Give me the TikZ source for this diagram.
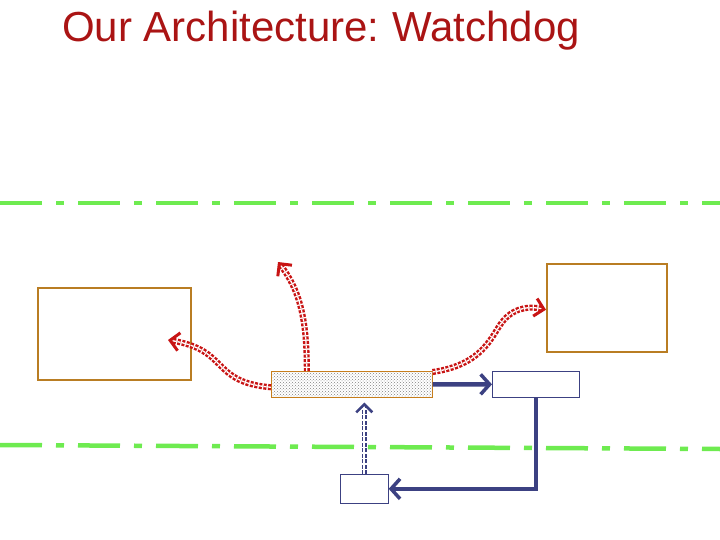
\documentclass[tikz,border=0pt]{standalone}
\usepackage{fontspec}
\setmainfont{Liberation Sans}
\usetikzlibrary{arrows.meta,patterns}
\definecolor{ttl}{RGB}{170,20,20}
\definecolor{brn}{RGB}{185,125,35}
\definecolor{navy}{RGB}{60,65,130}
\definecolor{grn}{RGB}{110,235,80}
\definecolor{rd}{RGB}{200,20,20}
\tikzset{
 box/.style={draw=brn,line width=1.5pt},
 nbox/.style={draw=navy,line width=0.7pt,fill=white},
 gline/.style={draw=grn,line width=4.5pt,dash pattern=on 42pt off 14pt on 8pt off 14pt},
 redarr/.style={draw=rd,line width=2.4pt,dash pattern=on 3pt off 1.5pt,double=white,double distance=1.3pt,-{Straight Barb[length=9pt,width=18pt,line width=3pt]}},
 navarr/.style={draw=navy,line width=4.5pt,-{Straight Barb[length=9pt,width=20pt,line width=3.5pt]}},
 dnav/.style={draw=navy,line width=1.6pt,dash pattern=on 4pt off 1.5pt,double=white,double distance=1.8pt,-{Straight Barb[length=8pt,width=16pt,line width=2.5pt]}}
}
\begin{document}
\begin{tikzpicture}[x=1pt,y=-1pt]
\useasboundingbox (0,0) rectangle (720,540);
\node[anchor=base west,text=ttl,font=\fontsize{42}{46}\selectfont,inner sep=0] (title) at (62,42) {Our Architecture:\hspace{0.3em}Watchdog};
\coordinate (g1a) at (0,203); \coordinate (g1b) at (720,203);
\coordinate (g2a) at (0,445); \coordinate (g2b) at (720,449);
\draw[gline] (g1a) -- (g1b);
\draw[gline] (g2a) -- (g2b);
\node[box,minimum width=153pt,minimum height=92pt,inner sep=0,anchor=north west] (L) at (37,287) {};
\node[box,minimum width=120pt,minimum height=88pt,inner sep=0,anchor=north west] (R) at (546,263) {};
\node[draw=brn!80!orange,line width=0.6pt,pattern=crosshatch dots,pattern color=gray,minimum width=161pt,minimum height=26pt,inner sep=0,anchor=north west] (W) at (271,371) {};
\node[nbox,minimum width=87pt,minimum height=26pt,inner sep=0,anchor=north west] (S) at (492,371) {};
\node[nbox,minimum width=48pt,minimum height=29pt,inner sep=0,anchor=north west] (B) at (340,474) {};
\coordinate (t1) at (168,340);
\coordinate (t2) at (278,262);
\draw[redarr] ([yshift=-3pt]W.west) .. controls (210,382) and (230,350) .. (t1);
\draw[redarr] ([xshift=-45pt]W.north) .. controls (307,320) and (300,290) .. (t2);
\draw[redarr] ([yshift=-1pt]W.north east) .. controls (480,365) and (490,340) .. (500,325) .. controls (510,310) and (525,305) .. ([yshift=-2pt]R.west);
\draw[navarr] (W.east) -- (S.west);
\draw[navarr] (S.south) |- (B.east);
\draw[dnav] (B.north) -- ([yshift=-5pt]W.south -| B.north);
\end{tikzpicture}
\end{document}
